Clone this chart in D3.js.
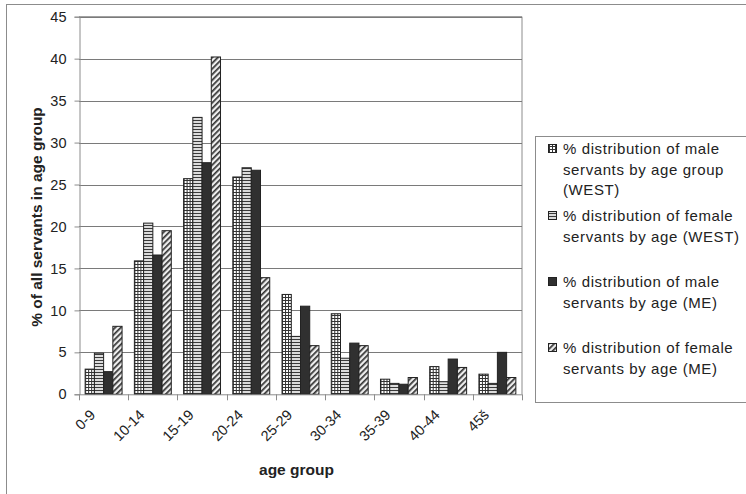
<!DOCTYPE html>
<html>
<head>
<meta charset="utf-8">
<script src="https://cdn.jsdelivr.net/npm/d3@7"></script>
<style>
  html, body { margin: 0; padding: 0; background: #fff; }
  svg { display: block; font-family: Arial, "Liberation Sans", sans-serif; }
</style>
</head>
<body>
<svg id="chart" width="746" height="494"></svg>
<script>
// Age groups along the x axis
const categories = ["0-9", "10-14", "15-19", "20-24", "25-29", "30-34", "35-39", "40-44", "45š"];

// Percentage of servants in each age group, per series
const maleWest   = [3.0, 15.9, 25.7, 25.9, 11.9, 9.6, 1.8, 3.3, 2.4];
const femaleWest = [4.9, 20.4, 33.0, 27.0, 6.9, 4.3, 1.3, 1.5, 1.3];
const maleME     = [2.7, 16.6, 27.6, 26.7, 10.5, 6.1, 1.2, 4.2, 5.0];
const femaleME   = [8.1, 19.5, 40.2, 13.9, 5.8, 5.8, 2.0, 3.2, 2.0];

const seriesNames = [
  ["% distribution of male", "servants by age group", "(WEST)"],
  ["% distribution of female", "servants by age (WEST)"],
  ["% distribution of male", "servants by age (ME)"],
  ["% distribution of female", "servants by age (ME)"]
];

const yTicks = [0, 5, 10, 15, 20, 25, 30, 35, 40, 45];

const series = [maleWest, femaleWest, maleME, femaleME];
const fills = ["url(#pGrid)", "url(#pHoriz)", "#303030", "url(#pDiag)"];

const svg = d3.select("#chart");

// Fill patterns
const defs = svg.append("defs");
const pg = defs.append("pattern").attr("id", "pGrid").attr("patternUnits", "userSpaceOnUse")
  .attr("width", 3).attr("height", 3);
pg.append("rect").attr("width", 3).attr("height", 3).attr("fill", "#fff");
pg.append("rect").attr("width", 3).attr("height", 1).attr("fill", "#333");
pg.append("rect").attr("width", 1).attr("height", 3).attr("fill", "#333");

const ph = defs.append("pattern").attr("id", "pHoriz").attr("patternUnits", "userSpaceOnUse")
  .attr("width", 4).attr("height", 3);
ph.append("rect").attr("width", 4).attr("height", 3).attr("fill", "#dcdcdc");
ph.append("rect").attr("width", 4).attr("height", 1).attr("fill", "#3a3a3a");

const pd = defs.append("pattern").attr("id", "pDiag").attr("patternUnits", "userSpaceOnUse")
  .attr("width", 4).attr("height", 4).attr("patternTransform", "rotate(45)");
pd.append("rect").attr("width", 4).attr("height", 4).attr("fill", "#eeeeee");
pd.append("rect").attr("width", 1.7).attr("height", 4).attr("fill", "#333");

// Outer chart frame
svg.append("rect").attr("x", 6.5).attr("y", 4.5).attr("width", 746).attr("height", 500)
  .attr("fill", "#fff").attr("stroke", "#8c8c8c").attr("stroke-width", 1);

const plot = { left: 79, right: 522, top: 16.7, bottom: 394.3 };

const y = d3.scaleLinear().domain([0, 45]).range([plot.bottom, plot.top]);
const x0 = d3.scaleBand().domain(categories).range([plot.left, plot.right])
  .paddingInner(0.25).paddingOuter(0.125);
const x1 = d3.scaleBand().domain(d3.range(series.length)).range([0, x0.bandwidth()]);

// Plot area border (top and right)
svg.append("path")
  .attr("d", `M${plot.left},${plot.top}H${plot.right}V${plot.bottom}`)
  .attr("fill", "none").attr("stroke", "#8c8c8c");

// Horizontal gridlines
svg.append("g").selectAll("line").data(yTicks.filter(d => d > 0)).join("line")
  .attr("x1", plot.left).attr("x2", plot.right)
  .attr("y1", d => Math.round(y(d)) + 0.5).attr("y2", d => Math.round(y(d)) + 0.5)
  .attr("stroke", "#7a7a7a");

// Bars
const groups = svg.append("g").selectAll("g").data(categories).join("g")
  .attr("transform", d => `translate(${x0(d)},0)`);
groups.selectAll("rect")
  .data((c, i) => series.map((s, k) => ({ k, v: s[i] })))
  .join("rect")
  .attr("x", d => x1(d.k))
  .attr("width", x1.bandwidth())
  .attr("y", d => y(d.v))
  .attr("height", d => y(0) - y(d.v))
  .attr("fill", d => fills[d.k])
  .attr("stroke", "#222").attr("stroke-width", 1);

// Y axis
const yAxis = d3.axisLeft(y).tickValues(yTicks).tickSize(5).tickPadding(8);
const gy = svg.append("g").attr("transform", `translate(${plot.left + 0.5},0)`).call(yAxis);
gy.select(".domain").attr("stroke", "#8c8c8c");
gy.selectAll(".tick line").attr("stroke", "#8c8c8c");
gy.selectAll("text").attr("font-size", 14.5).attr("fill", "#222")
  .attr("font-family", "Arial, 'Liberation Sans', sans-serif");

// X axis: line with ticks at the category boundaries
const step = x0.step();
const boundaries = categories.map(c => x0(c) - step * x0.paddingInner() / 2)
  .concat([plot.right]);
const gx = svg.append("g");
gx.append("line").attr("x1", plot.left).attr("x2", plot.right)
  .attr("y1", plot.bottom + 0.5).attr("y2", plot.bottom + 0.5).attr("stroke", "#8c8c8c");
gx.selectAll("line.tk").data(boundaries).join("line").attr("class", "tk")
  .attr("x1", d => Math.round(d) + 0.5).attr("x2", d => Math.round(d) + 0.5)
  .attr("y1", plot.bottom).attr("y2", plot.bottom + 6).attr("stroke", "#8c8c8c");
gx.selectAll("text").data(categories).join("text")
  .attr("transform", d => `translate(${x0(d) + x0.bandwidth() / 2 - 11},${plot.bottom + 18}) rotate(-45)`)
  .attr("text-anchor", "end").attr("dy", "0.35em")
  .attr("font-size", 14.5).attr("fill", "#222")
  .text(d => d);

// Axis titles
svg.append("text").attr("x", (plot.left + plot.right) / 2 - 4).attr("y", 475)
  .attr("text-anchor", "middle").attr("font-size", 15.5).attr("font-weight", "bold")
  .attr("fill", "#222").text("age group");
svg.append("text").attr("transform", `translate(37,217) rotate(-90)`)
  .attr("text-anchor", "middle").attr("dy", "0.35em").attr("font-size", 15.5)
  .attr("font-weight", "bold").attr("fill", "#222").text("% of all servants in age group");

// Legend
const lg = svg.append("g");
lg.append("rect").attr("x", 535.5).attr("y", 136.5).attr("width", 240).attr("height", 266)
  .attr("fill", "#fff").attr("stroke", "#8c8c8c");
const entryY = [149, 216, 282, 348];
series.forEach((s, k) => {
  const e = lg.append("g").attr("transform", `translate(0,${entryY[k]})`);
  e.append("rect").attr("x", 548.5).attr("y", -4.5).attr("width", 8).attr("height", 8)
    .attr("fill", fills[k]).attr("stroke", "#222");
  e.selectAll("text").data(seriesNames[k]).join("text")
    .attr("x", 563).attr("y", (d, i) => i * 20.5).attr("dy", "0.35em")
    .attr("font-size", 15).attr("letter-spacing", 0.6).attr("fill", "#222").text(d => d);
});
</script>
</body>
</html>
